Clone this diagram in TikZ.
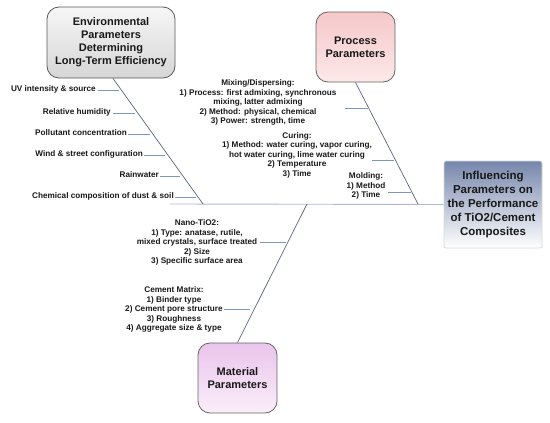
\documentclass[tikz,border=0pt]{standalone}
\usepackage{fontspec}
\setmainfont{Liberation Sans}
\definecolor{spinec}{RGB}{172,186,214}
\definecolor{diagc}{RGB}{92,100,128}
\definecolor{branchc}{RGB}{125,150,190}
\definecolor{maintop}{RGB}{118,134,172}
\definecolor{envtop}{RGB}{246,246,246}
\definecolor{envbot}{RGB}{214,214,214}
\definecolor{proctop}{RGB}{246,200,202}
\definecolor{procbot}{RGB}{252,232,232}
\definecolor{mattop}{RGB}{234,196,236}
\definecolor{matbot}{RGB}{250,238,250}
\begin{document}
\begin{tikzpicture}[x=1pt,y=-1pt,
  lab/.style={font=\fontsize{8.2}{9.5}\selectfont\bfseries, inner sep=0pt, align=center, text=black!90},
  title/.style={font=\fontsize{11}{13}\selectfont\bfseries, align=center, text=black!90, rounded corners=12pt, line width=0.8pt, inner sep=0pt},
  spine/.style={draw=spinec, line width=0.9pt},
  diag/.style={draw=diagc, line width=0.7pt},
  branch/.style={draw=branchc, line width=0.7pt}]
\useasboundingbox (0,0) rectangle (550,423);
\fill[white] (0,0) rectangle (550,423);
% boxes
\node[title, draw=black!65, top color=envtop, bottom color=envbot, minimum width=128pt, minimum height=71pt] (env) at (111,42.5) {Environmental\\Parameters\\Determining\\Long-Term Efficiency};
\node[title, draw=black!60, top color=proctop, bottom color=procbot, minimum width=79pt, minimum height=70pt] (proc) at (355.5,47) {Process\\Parameters};
\node[title, draw=black!60, top color=mattop, bottom color=matbot, minimum width=79pt, minimum height=70pt] (mat) at (237.5,378) {Material\\Parameters};
\node[title, font=\fontsize{11.5}{14}\selectfont\bfseries, draw=black!15, rounded corners=2pt, top color=maintop, bottom color=white, minimum width=98pt, minimum height=87pt] (main) at (493,204.5) {Influencing\\Parameters on\\the Performance\\of TiO2/Cement\\Composites};
% spine and diagonals
\coordinate (spL) at (170,204);
\coordinate (envE) at (203,204);
\coordinate (procE) at (418,204);
\coordinate (matE) at (307,204);
\draw[spine] (spL) -- (main.west);
\draw[diag] ([xshift=2pt]env.south) -- (envE);
\draw[diag] (proc.south) -- (procE);
\draw[diag] (mat.north) -- (matE);
% environmental labels
\node[lab, anchor=base east] (uv) at (96,91) {UV intensity \& source};
\draw[branch] (98,90) -- (119,90);
\node[lab, anchor=base east] (rh) at (111,114) {Relative humidity};
\draw[branch] (113,113) -- (135,113);
\node[lab, anchor=base east] (pc) at (127,135) {Pollutant concentration};
\draw[branch] (128,134) -- (150,134);
\node[lab, anchor=base east] (ws) at (143,156) {Wind \& street configuration};
\draw[branch] (144,155) -- (165,155);
\node[lab, anchor=base east] (rw) at (159,177) {Rainwater};
\draw[branch] (160,176) -- (180,176);
\node[lab, anchor=base east] (cc) at (174,198) {Chemical composition of dust \& soil};
\draw[branch] (175,197) -- (196,197);
% process labels
\node[lab] (mix) at (258,102.5) {Mixing/Dispersing:\\1) Process: first admixing, synchronous\\mixing, latter admixing\\2) Method: physical, chemical\\3) Power: strength, time};
\draw[branch] (345,108) -- (368,108);
\node[lab] (cur) at (297,155) {Curing:\\1) Method: water curing, vapor curing,\\hot water curing, lime water curing\\2) Temperature\\3) Time};
\draw[branch] (372,160) -- (394,160);
\node[lab] (mol) at (366,186) {Molding:\\1) Method\\2) Time};
\draw[branch] (388,192) -- (411,192);
% material labels
\node[lab] (nano) at (197,242.5) {Nano-TiO2:\\1) Type: anatase, rutile,\\mixed crystals, surface treated\\2) Size\\3) Specific surface area};
\draw[branch] (260,242) -- (286,242);
\node[lab] (cem) at (174,309.5) {Cement Matrix:\\1) Binder type\\2) Cement pore structure\\3) Roughness\\4) Aggregate size \& type};
\draw[branch] (224,309) -- (250,309);
\end{tikzpicture}
\end{document}
